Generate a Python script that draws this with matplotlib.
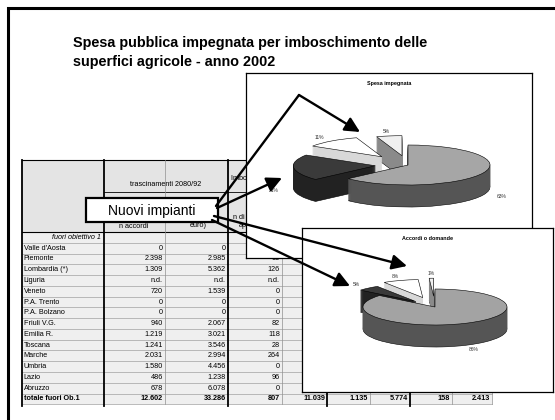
import numpy as np
import matplotlib.pyplot as plt

plt.rcParams['font.family'] = ['Liberation Sans', 'DejaVu Sans']

W, H = 555, 420

# table data
regioni = ["Valle d'Aosta", "Piemonte", "Lombardia (*)", "Liguria", "Veneto",
           "P.A. Trento", "P.A. Bolzano", "Friuli V.G.", "Emilia R.", "Toscana",
           "Marche", "Umbria", "Lazio", "Abruzzo"]
n_accordi = [0, 2398, 1309, None, 720, 0, 0, 940, 1219, 1241, 2031, 1580, 486, 678]
spesa = [0, 2985, 5362, None, 1539, 0, 0, 2067, 3021, 3546, 2994, 4456, 1238, 6078]
n_domande = [0, 93, 126, None, 0, 0, 0, 82, 118, 28, 264, 0, 96, 0]
abruzzo_altre = [0, 0, 0, 0, 0]
totale_fuori = [12602, 33286, 807, 11039, 1135, 5774, 158, 2413]

# pie data
spesa_pct = [63, 21, 11, 5]
accordi_pct = [86, 5, 8, 1]


def fmt(v):
    if v is None:
        return "n.d."
    return f"{v:,}".replace(",", ".")


def px_axes(x0, y0, x1, y1):
    return fig.add_axes([x0 / W, 1 - y1 / H, (x1 - x0) / W, (y1 - y0) / H])


fig = plt.figure(figsize=(W / 100, H / 100), dpi=100)
bg = fig.add_axes([0, 0, 1, 1])
bg.set_xlim(0, W)
bg.set_ylim(H, 0)
bg.axis('off')

# slide frame
bg.plot([8, 8, W + 5], [H + 5, 8, 8], color='black', lw=2.2, solid_joinstyle='miter')

bg.text(73, 43, "Spesa pubblica impegnata per imboschimento delle",
        fontsize=10.4, fontweight='bold', va='center')
bg.text(73, 62, "superfici agricole - anno 2002",
        fontsize=10.4, fontweight='bold', va='center')

# ---- table
cols = [22, 104, 165, 228, 282, 327, 370, 410, 452, 492]
thick = [22, 104, 228, 327, 410]
top, head_bot = 160, 232
rh = 10.77
nrows = len(regioni) + 2
bottom = head_bot + nrows * rh

bg.add_patch(plt.Rectangle((cols[0], top), cols[-1] - cols[0], head_bot - top,
                           facecolor='#e4e4e4', edgecolor='none'))
bg.add_patch(plt.Rectangle((cols[0], head_bot), cols[-1] - cols[0], bottom - head_bot,
                           facecolor='#efefef', edgecolor='none'))
for i in range(1, nrows + 1):
    y = head_bot + i * rh
    bg.plot([cols[0], cols[-1]], [y, y], color='#a0a0a0', lw=0.5)
bg.plot([cols[0], cols[-1]], [top, top], color='black', lw=0.8)
bg.plot([cols[1], cols[-1]], [192, 192], color='black', lw=0.6)
bg.plot([cols[0], cols[-1]], [head_bot, head_bot], color='black', lw=0.8)
for x in cols:
    if x in thick:
        bg.plot([x, x], [top, bottom + 2], color='black', lw=1.3)
    else:
        bg.plot([x, x], [top, bottom], color='#909090', lw=0.5)

fs = 5.2
bg.text(166, 184, "trascinamenti 2080/92", fontsize=fs, ha='center', va='center')
bg.text(231, 178, "Imboschimenti anno 2002", fontsize=fs, ha='left', va='center')
bg.text(134, 226, "n accordi", fontsize=fs, ha='center', va='center')
bg.text(198, 221.5, "spesa (000\neuro)", fontsize=fs, ha='center', va='center',
        linespacing=1.05)
bg.text(255, 221.5, "n di domande\napprovate", fontsize=fs, ha='center', va='center',
        linespacing=1.05)


def row_y(i):
    return head_bot + (i + 0.5) * rh


bg.text(cols[1] - 3, row_y(0), "fuori obiettivo 1", fontsize=fs, style='italic',
        ha='right', va='center')
for i, r in enumerate(regioni):
    y = row_y(i + 1)
    bg.text(cols[0] + 1.5, y, r, fontsize=fs, va='center')
    for j, col in enumerate([n_accordi, spesa, n_domande]):
        bg.text(cols[j + 2] - 2, y, fmt(col[i]), fontsize=fs, ha='right', va='center')
for j, v in enumerate(abruzzo_altre):
    bg.text(cols[j + 5] - 2, row_y(len(regioni)), fmt(v), fontsize=fs,
            ha='right', va='center')
yt = row_y(nrows - 1)
bg.text(cols[0] + 1.5, yt, "totale fuori Ob.1", fontsize=fs, fontweight='bold', va='center')
for j, v in enumerate(totale_fuori):
    bg.text(cols[j + 2] - 2, yt, fmt(v), fontsize=fs, fontweight='bold',
            ha='right', va='center')


# ---- 3d-looking pies
def pie3d(box, title, values, tops, sides, explode, cx, cy, rx, ry, depth, z):
    x0, y0, x1, y1 = box
    ax = px_axes(x0, y0, x1, y1)
    ax.set_zorder(z)
    d = depth / ry
    layers = np.linspace(d, 0, int(depth) + 1)
    for k, off in enumerate(layers[:-1]):
        ws, _ = ax.pie(values, colors=sides, explode=explode, startangle=90,
                       counterclock=False, center=(0, -off), radius=1,
                       wedgeprops=dict(linewidth=0.4))
        for w in ws:
            w.set_edgecolor('black' if k == 0 else w.get_facecolor())
    ws, _ = ax.pie(values, colors=tops, explode=explode, startangle=90,
                   counterclock=False, center=(0, 0), radius=1,
                   wedgeprops=dict(linewidth=0.4, edgecolor='black'))
    for w, v in zip(ws, values):
        mid = np.deg2rad((w.theta1 + w.theta2) / 2)
        lx = w.center[0] + 1.25 * np.cos(mid)
        ly = w.center[1] + 1.25 * np.sin(mid)
        if np.sin(mid) < 0:
            ly -= d
        ax.text(lx, ly, f"{v}%", fontsize=3.6, color='#333333',
                ha='center', va='center')
    ax.set_aspect('auto')
    ax.set_xlim((x0 - cx) / rx, (x1 - cx) / rx)
    ax.set_ylim((cy - y1) / ry, (cy - y0) / ry)
    ax.set_frame_on(True)
    ax.patch.set_facecolor('white')
    for s in ax.spines.values():
        s.set_color('black')
        s.set_linewidth(0.9)
    ax.text(0.5, 1 - 10.5 / (y1 - y0), title, transform=ax.transAxes,
            fontsize=3.9, fontweight='bold', ha='center', va='center')
    return ax


pie3d((246, 73, 532, 258), "Spesa impegnata", spesa_pct,
      ['#a6a6a6', '#3a3a3a', '#ffffff', '#f0f0f0'],
      ['#555555', '#222222', '#d8d8d8', '#8a8a8a'],
      [0, 0.4, 0.52, 0.47], 408, 165, 82, 20, 22, 2)

pie3d((302, 228, 553, 392), "Accordi o domande", accordi_pct,
      ['#a3a3a3', '#3a3a3a', '#ffffff', '#f0f0f0'],
      ['#555555', '#222222', '#d8d8d8', '#8a8a8a'],
      [0, 0.4, 0.55, 0.6], 435, 307, 72, 18, 22, 3)

# ---- overlay: label box and arrows
ov = fig.add_axes([0, 0, 1, 1])
ov.set_zorder(5)
ov.set_xlim(0, W)
ov.set_ylim(H, 0)
ov.axis('off')
ov.patch.set_alpha(0)

ov.add_patch(plt.Rectangle((86, 198), 132, 24, facecolor='white',
                           edgecolor='black', lw=1.6))
ov.text(152, 210.5, "Nuovi impianti", fontsize=10, ha='center', va='center')

arrow = dict(arrowstyle='-|>,head_length=0.9,head_width=0.45', color='black',
             lw=1.7, mutation_scale=10, shrinkA=0, shrinkB=0)
ov.plot([216, 299], [206, 95], color='black', lw=1.7, solid_capstyle='round')
ov.annotate("", xy=(360, 132), xytext=(299, 95), arrowprops=arrow)
ov.annotate("", xy=(282, 178), xytext=(217, 208), arrowprops=arrow)
ov.annotate("", xy=(407, 266), xytext=(214, 216), arrowprops=arrow)
ov.annotate("", xy=(350, 286), xytext=(212, 220), arrowprops=arrow)

fig.savefig("out.png", dpi=100)
